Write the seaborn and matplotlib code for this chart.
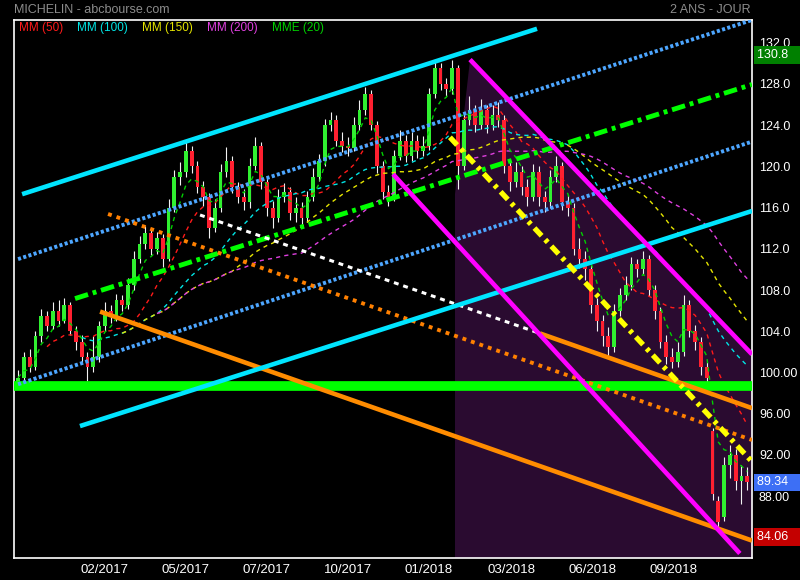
import numpy as np
import pandas as pd
import matplotlib.pyplot as plt
import matplotlib.transforms as mtransforms
import seaborn as sns

# one candle every 4 trading days, x = trading day index
bar_step = 4
opens = [99.0, 99.5, 101.5, 100.5, 103.5, 105.5, 104.5, 106.0, 105.0, 106.5,
         104.0, 103.0, 101.5, 100.5, 101.5, 104.5, 106.0, 105.5, 107.0, 106.5,
         108.5, 111.0, 112.5, 113.5, 112.0, 113.0, 111.0, 116.0, 119.0, 119.5,
         121.5, 120.0, 118.0, 117.0, 114.0, 116.0, 119.5, 120.5, 118.0, 117.0,
         116.5, 120.0, 122.0, 118.5, 116.0, 115.0, 117.0, 117.5, 115.5, 116.0,
         115.0, 117.0, 119.0, 120.5, 124.0, 124.5, 122.5, 122.0, 121.8, 124.0,
         125.5, 127.0, 124.0, 120.0, 117.5, 117.0, 121.0, 122.5, 121.0, 122.5,
         121.5, 122.0, 127.0, 129.5, 128.0, 127.5, 129.5, 120.0, 124.5, 125.5,
         124.0, 125.5, 124.0, 125.0, 124.5, 120.0, 118.5, 119.5, 118.0, 117.0,
         119.5, 117.0, 116.5, 119.0, 120.0, 116.5, 116.0, 112.0, 111.0, 110.0,
         106.5, 105.0, 103.5, 102.5, 106.0, 107.5, 108.5, 110.5, 110.0, 111.0,
         108.0, 106.0, 103.0, 101.5, 101.0, 102.0, 106.5, 104.0, 103.0, 100.5,
         94.3, 87.5, 86.0, 91.0, 92.0, 89.5, 90.0]
closes = [99.5, 101.5, 100.5, 103.5, 105.5, 104.5, 106.0, 105.0, 106.5, 104.0,
          103.0, 101.5, 100.5, 101.5, 104.5, 106.0, 105.5, 107.0, 106.5, 108.5,
          111.0, 112.5, 113.5, 112.0, 113.0, 111.0, 116.0, 119.0, 119.5, 121.5,
          120.0, 118.0, 117.0, 114.0, 116.0, 119.5, 120.5, 118.0, 117.0, 116.5,
          120.0, 122.0, 118.5, 116.0, 115.0, 117.0, 117.5, 115.5, 116.0, 115.0,
          117.0, 119.0, 120.5, 124.0, 124.5, 122.5, 122.0, 121.8, 124.0, 125.5,
          127.0, 124.0, 120.0, 117.5, 117.0, 121.0, 122.5, 121.0, 122.5, 121.5,
          122.0, 127.0, 129.5, 128.0, 127.5, 129.5, 120.0, 124.5, 125.5, 124.0,
          125.5, 124.0, 125.0, 124.5, 120.0, 118.5, 119.5, 118.0, 117.0, 119.5,
          117.0, 116.5, 119.0, 120.0, 116.5, 116.0, 112.0, 111.0, 110.0, 106.5,
          105.0, 103.5, 102.5, 106.0, 107.5, 108.5, 110.5, 110.0, 111.0, 108.0,
          106.0, 103.0, 101.5, 101.0, 102.0, 106.5, 104.0, 103.0, 100.5, 99.5,
          88.2, 85.5, 91.0, 92.0, 89.5, 90.0, 89.34]
highs = [100.2, 102.0, 102.3, 104.0, 106.2, 106.0, 106.8, 107.0, 107.2, 106.8,
         104.5, 103.6, 102.0, 103.5, 105.0, 106.8, 106.5, 107.6, 107.5, 109.2,
         111.8, 113.2, 114.2, 114.0, 113.6, 113.4, 116.8, 119.6, 120.4, 122.4,
         122.0, 120.5, 118.6, 117.4, 116.8, 120.2, 121.9, 121.0, 118.5, 117.8,
         120.8, 122.8, 122.4, 119.0, 116.6, 117.8, 118.4, 118.0, 117.0, 116.5,
         117.6, 119.8, 121.2, 124.6, 125.3, 125.0, 123.3, 122.8, 124.8, 126.4,
         127.7, 127.4, 124.4, 120.5, 118.2, 121.6, 123.5, 123.0, 123.3, 123.0,
         122.9, 127.6, 130.3, 130.0, 128.6, 130.3, 129.8, 125.2, 126.8, 126.0,
         126.5, 126.0, 126.0, 126.2, 125.0, 120.6, 120.4, 120.0, 118.8, 120.2,
         120.0, 117.6, 119.6, 121.0, 120.4, 117.2, 116.4, 113.0, 111.8, 110.4,
         107.2, 105.6, 104.4, 106.6, 108.2, 109.4, 111.2, 111.0, 111.8, 111.4,
         108.5, 106.4, 103.6, 102.4, 103.0, 107.5, 107.0, 104.6, 103.4, 101.0,
         94.6, 88.0, 91.8, 93.0, 92.6, 91.0, 90.8]
lows = [98.6, 99.2, 100.0, 100.2, 103.0, 104.0, 104.2, 104.5, 104.8, 103.6,
        102.2, 100.8, 99.2, 100.0, 101.0, 104.0, 104.8, 105.0, 106.0, 106.2,
        108.0, 110.6, 112.0, 111.4, 111.5, 110.2, 110.8, 115.6, 118.2, 119.0,
        119.4, 117.4, 116.2, 113.0, 113.6, 115.6, 119.0, 117.4, 116.4, 115.8,
        116.0, 119.6, 117.8, 115.2, 114.0, 114.6, 116.5, 114.8, 114.6, 114.2,
        114.6, 116.6, 118.6, 120.0, 123.4, 122.0, 121.4, 121.0, 121.5, 123.5,
        125.0, 123.5, 119.4, 116.8, 116.2, 116.6, 120.6, 120.4, 120.5, 120.8,
        121.0, 121.6, 126.6, 127.4, 126.8, 127.0, 117.8, 119.6, 124.0, 123.3,
        123.6, 123.2, 123.5, 123.8, 119.4, 117.6, 118.0, 117.2, 116.2, 116.6,
        116.2, 115.6, 116.0, 118.5, 115.8, 115.2, 111.4, 110.1, 109.0, 105.8,
        104.0, 102.6, 101.6, 102.0, 105.5, 107.0, 108.0, 109.3, 109.6, 107.4,
        105.2, 102.4, 100.8, 100.4, 100.5, 101.6, 103.4, 102.2, 99.8, 99.0,
        87.6, 84.6, 85.6, 89.8, 88.6, 87.2, 88.6]

month_ticks = [60, 116, 172, 228, 284, 341, 397, 453]
month_labels = ['02/2017', '05/2017', '07/2017', '10/2017',
                '01/2018', '03/2018', '06/2018', '09/2018']
price_ticks = [88, 92, 96, 100, 104, 108, 112, 116, 120, 124, 128, 132]
price_labels = ['88.00', '92.00', '96.00', '100.00', '104.0', '108.0',
                '112.0', '116.0', '120.0', '124.0', '128.0', '132.0']

# moving averages (periods in days) and their colours
ma_names = ['MM (50)', 'MM (100)', 'MM (150)', 'MM (200)', 'MME (20)']
ma_days = [50, 100, 150, 200, 20]
ma_colors = ['#ff1a1a', '#00e5e5', '#e5e500', '#e040e0', '#00d000']

# drawn trend lines: (day, price) start and end
cyan_top = [(2.8, 117.3), (358.7, 133.35)]
cyan_low = [(42.8, 94.8), (507.3, 115.67)]
blue_top = [(0.0, 111.0), (507.3, 134.2)]
blue_mid = [(0.0, 98.86), (507.3, 122.4)]
green_dashdot = [(39.4, 107.17), (507.3, 127.94)]
green_support = [(-3.0, 98.65), (508.0, 98.65)]
orange_dotted = [(62.2, 115.38), (507.3, 93.45)]
white_dashed = [(125.8, 115.28), (360.7, 103.79)]
orange_upper = [(360.7, 103.79), (507.3, 96.54)]
orange_lower = [(56.7, 105.91), (507.3, 83.69)]
magenta_top = [(312.4, 130.36), (507.3, 101.76)]
magenta_low = [(259.2, 119.24), (498.9, 82.44)]
yellow_dashdot = [(298.5, 122.82), (507.3, 91.35)]
channel_zone = [(312.4, 130.36), (507.3, 101.76), (507.3, 82.0),
                (302.0, 82.0), (302.0, 117.3)]

badge_values = [130.8, 89.34, 84.06]
badge_texts = ['130.8', '89.34', '84.06']
badge_colors = ['#008000', '#3d6ff5', '#c40000']

df = pd.DataFrame({'t': np.arange(len(closes)) * bar_step, 'open': opens,
                   'close': closes, 'high': highs, 'low': lows})
for name, days in zip(ma_names, ma_days):
    n = max(int(round(days / bar_step)), 2)
    if name.startswith('MME'):
        df[name] = df['close'].ewm(span=n, adjust=False).mean()
    else:
        df[name] = df['close'].rolling(n, min_periods=n // 2).mean()

sns.set_style('dark')
plt.rcParams['font.family'] = ['Liberation Sans', 'DejaVu Sans']

fig = plt.figure(figsize=(8, 5.8), dpi=100, facecolor='black')
ax = fig.add_axes([14 / 800, 1 - 558 / 580, 738 / 800, 538 / 580])
ax.set_facecolor('black')

zx, zy = zip(*channel_zone)
ax.fill(zx, zy, color='#2a0b30', zorder=1, lw=0)

# candles
up = df['close'] >= df['open']
ax.vlines(df['t'], df['low'], df['high'], color='#f2f2f2', lw=0.8, zorder=3)
ax.bar(df['t'][up], (df['close'] - df['open'])[up], bottom=df['open'][up],
       width=2.6, color='#30f030', lw=0, zorder=4)
ax.bar(df['t'][~up], (df['open'] - df['close'])[~up], bottom=df['close'][~up],
       width=2.6, color='#ff2030', lw=0, zorder=4)

for name, col in zip(ma_names, ma_colors):
    sns.lineplot(x=df['t'], y=df[name], ax=ax, color=col, lw=1,
                 linestyle=(0, (3, 3)), zorder=5)


def trend(pts, color, lw, ls='-'):
    xs, ys = zip(*pts)
    ax.plot(xs, ys, color=color, lw=lw, linestyle=ls, zorder=6,
            solid_capstyle='butt', dash_capstyle='butt')


trend(green_support, '#00ff00', 7)
trend(blue_top, '#4da6ff', 2.8, (0, (0.8, 0.6)))
trend(blue_mid, '#4da6ff', 2.8, (0, (0.8, 0.6)))
trend(green_dashdot, '#00ff00', 3.5, (0, (2.8, 1, 0.8, 1)))
trend(orange_dotted, '#ff8000', 2.8, (0, (1, 1.3)))
trend(white_dashed, '#ffffff', 2.2, (0, (1.6, 1.6)))
trend(orange_upper, '#ff8c00', 3.3)
trend(orange_lower, '#ff8c00', 3.3)
trend(cyan_top, '#00e5ff', 3.3)
trend(cyan_low, '#00e5ff', 3.3)
trend(magenta_top, '#ff00ff', 3.3)
trend(magenta_low, '#ff00ff', 3.3)
trend(yellow_dashdot, '#ffff00', 3.8, (0, (2, 1, 0.7, 1)))

ax.set_xlim(-2.8, 507.3)
ax.set_ylim(82.0, 134.2)
ax.set_xlabel('')
ax.set_ylabel('')
ax.grid(False)
for s in ax.spines.values():
    s.set_color('white')
    s.set_linewidth(1.2)

ax.yaxis.tick_right()
ax.set_yticks(price_ticks)
ax.set_yticklabels(price_labels)
ax.tick_params(axis='y', length=0, pad=5, labelcolor='white', labelsize=9)
ax.set_xticks(month_ticks)
ax.set_xticklabels(month_labels)
ax.tick_params(axis='x', length=0, pad=4, labelcolor='white', labelsize=9.5)

blend = mtransforms.blended_transform_factory(ax.transAxes, ax.transData)
for val, txt, col in zip(badge_values, badge_texts, badge_colors):
    ax.text(1.0065, val, txt + '   ', transform=blend, va='center',
            ha='left', color='white', fontsize=9, clip_on=False, zorder=10,
            bbox=dict(boxstyle='square,pad=0.22', fc=col, ec='none'))

fig.text(14 / 800, 1 - 10 / 580, 'MICHELIN - abcbourse.com', color='#8c8c8c',
         fontsize=9, va='center', ha='left')
fig.text(751 / 800, 1 - 10 / 580, '2 ANS - JOUR', color='#8c8c8c',
         fontsize=9, va='center', ha='right')
legend_x = [19, 77, 142, 207, 272]
for name, col, px in zip(ma_names, ma_colors, legend_x):
    fig.text(px / 800, 1 - 28 / 580, name, color=col, fontsize=8.5,
             va='center', ha='left')

fig.savefig('out.png', dpi=100, facecolor='black')
